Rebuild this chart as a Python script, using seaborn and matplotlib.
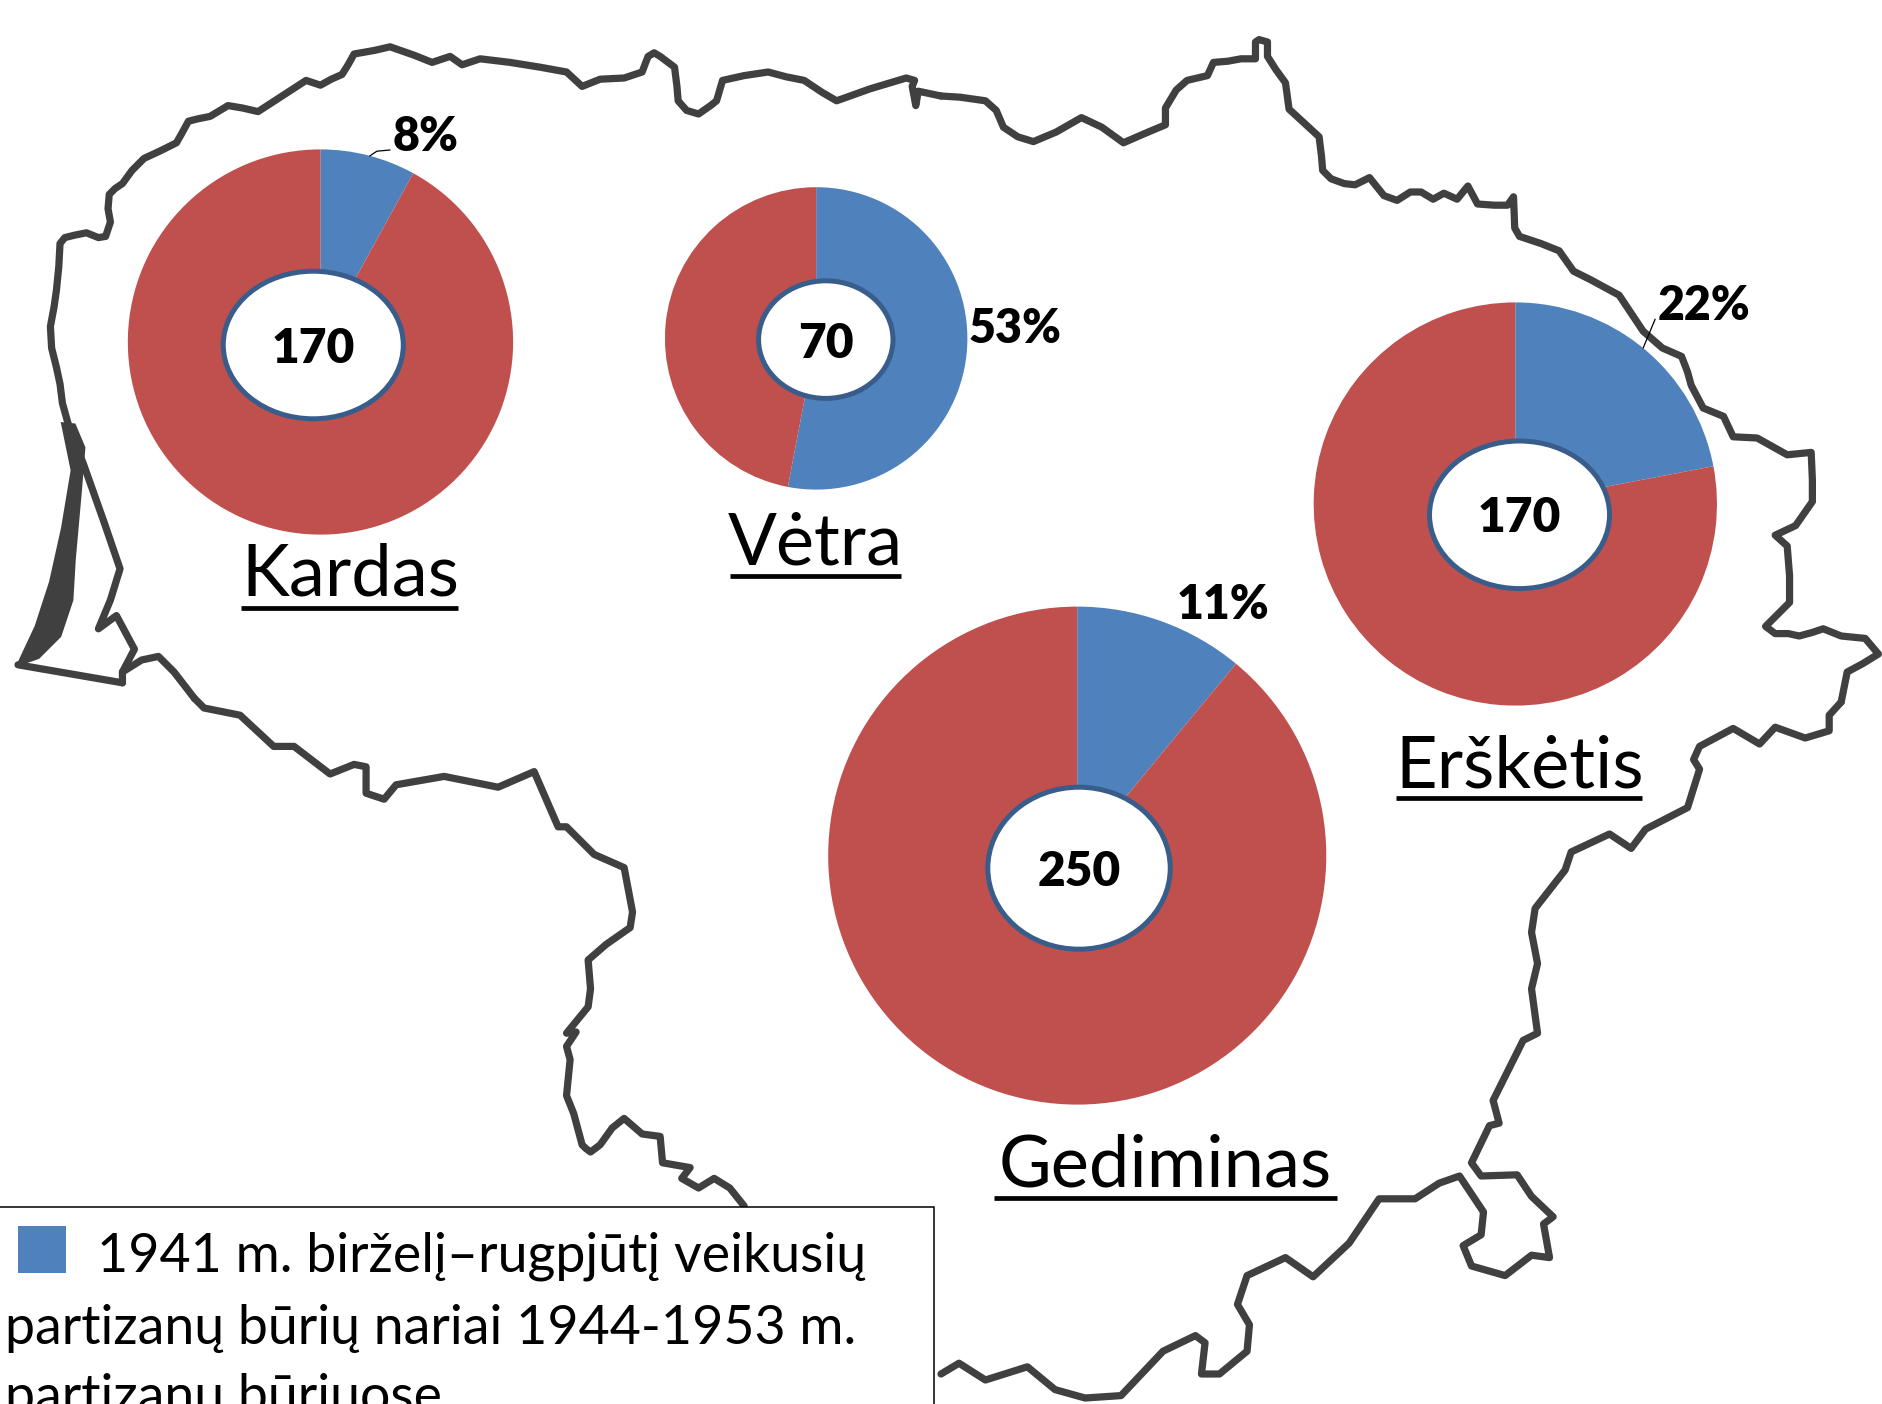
import matplotlib
matplotlib.use("Agg")
import matplotlib.pyplot as plt
from matplotlib.patches import Ellipse, Rectangle
import numpy as np
import seaborn as sns

# ---- data ----
units = ["Kardas", "Vėtra", "Erškėtis", "Gediminas"]
share_1941 = [8, 53, 22, 11]
members = [170, 70, 170, 250]
legend_lines = ["1941 m. birželį–rugpjūtį veikusių",
                "partizanų būrių nariai 1944-1953 m.",
                "partizanų būriuose"]

# border, in image coordinates of the shrunk reference
north_x = [57,52,50,47,43,42,45,47,49,50,54,62,72,82,88,92,90,91,96,102,110,120,133,147,151,157,165,175,190,202,215,235,255,267,276,285,290,295,312,325,345,360,375,385,400,425,450,472,485,500,520,535,538,540,545,550,562,564,565,572,582,592,597,602,620,640,655,670,685,697,725,755,762,760,763,765,784]
north_y = [354,336,320,306,290,272,256,242,222,203,198,196,194,198,197,185,174,162,157,153,142,132,126,119,112,101,99,97,88,90,93,80,67,71,66,62,54,45,42,39,46,52,47,54,49,52,56,60,72,66,65,60,52,47,44,47,56,72,84,92,95,88,84,67,63,60,64,67,77,84,74,65,67,72,88,76,80]
east_x = [784,800,821,830,836,848,861,880,901,918,936,952,971,971,980,989,1006,1011,1023,1034,1046,1046,1049,1056,1056,1063,1071,1074,1086,1099,1101,1102,1109,1120,1129,1141,1153,1164,1175,1184,1194,1203,1214,1223,1231,1245,1256,1261,1262,1266,1284,1299,1311,1325,1349,1369,1385,1401,1406,1409,1419,1436,1444,1464,1489,1509,1510,1510,1496,1479,1489,1491,1491,1471,1479,1490,1499,1510,1519,1534,1554,1565,1552,1539,1534]
east_y = [80,81,84,92,106,114,118,110,98,106,119,112,104,90,75,67,63,52,51,49,49,35,33,35,47,58,69,91,102,114,130,142,149,153,154,148,163,167,160,160,166,161,166,155,170,171,171,164,190,197,203,209,226,233,246,276,290,297,310,321,340,347,364,365,379,377,400,418,438,446,455,480,502,522,528,528,530,527,524,530,532,545,553,560,585]
southeast_x = [1534,1524,1524,1504,1479,1466,1444,1416,1411,1416,1406,1371,1359,1341,1309,1304,1279,1276,1281,1276,1281,1269,1244,1249,1241,1226,1234,1264,1276,1294,1286,1291,1276,1254,1226,1219,1234,1236,1216,1199,1179,1149,1124,1094,1071,1039,1031,1041,1039,1016,1001,1004,996,969,934,904,879,856,821,799,784]
southeast_y = [585,596,609,615,606,620,607,622,633,641,673,691,707,695,710,725,757,777,803,824,861,867,917,936,938,969,980,979,997,1014,1020,1048,1046,1063,1055,1038,1029,1010,980,986,999,999,1036,1064,1048,1063,1087,1104,1126,1145,1145,1119,1113,1126,1163,1165,1158,1139,1150,1136,1145]
southwest_x = [620,608,595,582,568,575,552,550,535,520,510,505,500,492,488,485,478,472,475,472,480,472,490,492,490,505,525,527,520,495,472,465,445,415,370,330,320,305,305,295,275,245,228,200,170,162]
southwest_y = [1005,990,982,990,982,973,969,947,945,932,940,947,954,960,957,954,928,913,883,872,860,861,839,824,800,787,773,760,723,712,689,689,643,656,647,654,666,661,639,637,645,622,622,596,590,582]
lagoon_x = [57,70,87,100,92,82,97,112,102,102]
lagoon_y = [354,388,436,474,500,524,513,541,560,569]
spit_x = [15,30,42,52,60,52,62,70,67,62,60,50,32]
spit_y = [554,522,485,440,392,353,354,373,410,466,500,530,548]
spit_base_x = [15,102]
spit_base_y = [554,569]
mainland_join_x = [102,118,132,145,162]
mainland_join_y = [560,550,547,560,582]

# ---- image frame of the reference (shrunk coordinates) ----
W, H = 1568, 1170
RED, BLUE, RING, DARK = "#C0504D", "#4F81BD", "#385D8A", "#404040"

sns.set_theme(style="white")
plt.rcParams["font.family"] = ["Lato", "DejaVu Sans"]

fig = plt.figure(figsize=(18.82, 14.04), dpi=100, facecolor="white")
ax = fig.add_axes([0, 0, 1, 1])
Y = lambda v: H - np.asarray(v, dtype=float)

# map outline
for xs, ys in [(north_x, north_y), (east_x, east_y), (southeast_x, southeast_y),
               (southwest_x, southwest_y), (lagoon_x, lagoon_y),
               (spit_base_x, spit_base_y), (mainland_join_x, mainland_join_y)]:
    sns.lineplot(x=xs, y=Y(ys), sort=False, estimator=None, color=DARK, lw=5.2,
                 ax=ax, zorder=1, solid_joinstyle="round", solid_capstyle="round")
ax.fill(spit_x, Y(spit_y), color=DARK, lw=2, zorder=1)

# pies
centres = [(267, 285), (680, 282), (1262.5, 420), (897.5, 713)]
radii = [160.5, 126, 168, 207.5]
holes = [(261, 287.5, 150, 123), (688, 283, 112, 98), (1266, 429, 150, 123), (899, 723.5, 152, 135)]
name_pos = [(292, 479), (679, 453), (1266, 639), (971, 972)]
name_rule = [(201, 382, 507), (608, 751, 480), (1163, 1368, 665), (828, 1114, 998)]
share_pos = [(355, 114), (846, 274), (1420, 255), (1019, 504)]
count_pos = [(261, 291), (688, 287), (1266, 432), (899, 727)]

for i, name in enumerate(units):
    cx, cy = centres[i]
    ax.pie([share_1941[i], 100 - share_1941[i]], colors=[BLUE, RED], startangle=90,
           counterclock=False, center=(cx, H - cy), radius=radii[i],
           wedgeprops={"zorder": 3, "linewidth": 0})
    hx, hy, hw, hh = holes[i]
    ax.add_patch(Ellipse((hx, H - hy), hw, hh, fc="white", ec=RING, lw=3.6, zorder=4))
    ax.text(count_pos[i][0], H - count_pos[i][1], str(members[i]), ha="center", va="center",
            fontsize=34.5, fontweight="heavy", color="black", zorder=5)
    ax.text(share_pos[i][0], H - share_pos[i][1], f"{share_1941[i]}%", ha="center", va="center",
            fontsize=33.5, fontweight="heavy", color="black", zorder=5)
    ax.text(name_pos[i][0], H - name_pos[i][1], name, ha="center", va="center",
            fontsize=52, color="black", zorder=5)
    x0, x1, ry = name_rule[i]
    ax.plot([x0, x1], [H - ry, H - ry], color="black", lw=3.4, zorder=5, solid_capstyle="butt")

# leader lines
ax.plot([308, 314, 325], [H - 130, H - 126, H - 125], color="black", lw=0.9, zorder=5)
ax.plot([1369, 1379], [H - 290, H - 266], color="black", lw=0.9, zorder=5)

# legend
ax.add_patch(Rectangle((-5, H - 1180), 783, 174, fc="white", ec="black", lw=1.1, zorder=6))
ax.add_patch(Rectangle((15, H - 1061), 40, 39, fc=BLUE, ec="none", zorder=7))
for x, y, line in zip([81, 4, 4], [1047, 1107, 1165], legend_lines):
    ax.text(x, H - y, line, ha="left", va="center", fontsize=38.7, color="black", zorder=7)

ax.set_xlim(0, W)
ax.set_ylim(0, H)
ax.set_aspect("auto")
ax.axis("off")
fig.savefig("out.png", dpi=100)
